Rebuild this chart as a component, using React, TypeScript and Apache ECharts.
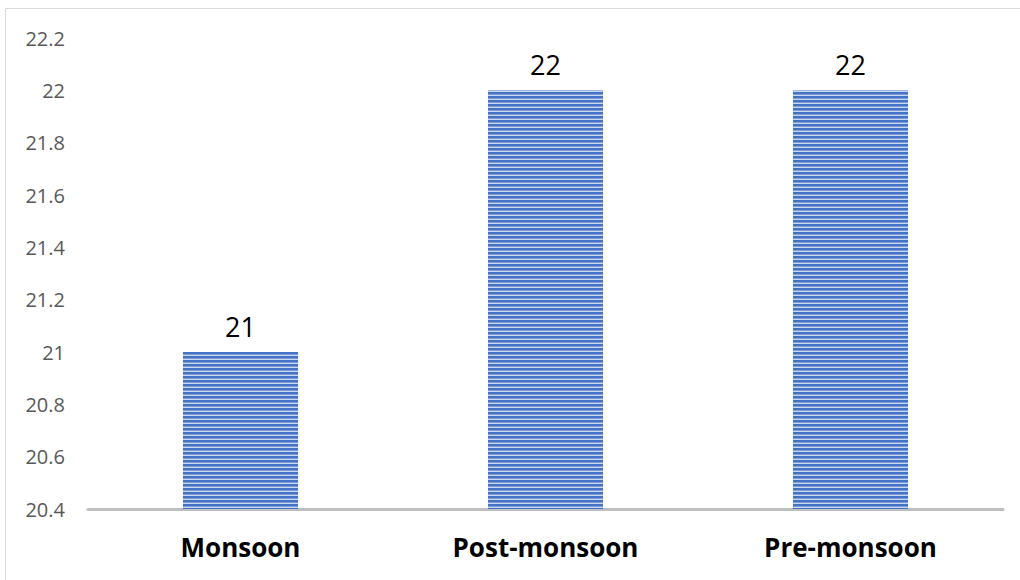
import React, { useEffect, useRef } from "react";
import * as echarts from "echarts";

const categories = ["Monsoon", "Post-monsoon", "Pre-monsoon"];
const values = [21, 22, 22];
const yMin = 20.4;
const yMax = 22.2;
const yInterval = 0.2;

const stripeSvg =
  '<svg xmlns="http://www.w3.org/2000/svg" width="4" height="4">' +
  '<rect width="4" height="4" fill="#C9D7F0"/>' +
  '<rect width="4" height="2" fill="#4472C4"/>' +
  '<rect y="2" width="4" height="1" fill="#7F9DD6"/>' +
  "</svg>";
const stripeUrl = "data:image/svg+xml;charset=utf-8," + encodeURIComponent(stripeSvg);

const FONT = "'Open Sans', Lato, sans-serif";

export default function App() {
  const ref = useRef<HTMLDivElement>(null);
  useEffect(() => {
    document.body.style.margin = "0";
    const chart = echarts.init(ref.current!, null, { renderer: "svg" });
    chart.setOption({
      animation: false,
      backgroundColor: "#ffffff",
      textStyle: { fontFamily: FONT },
      graphic: [
        {
          type: "rect",
          shape: { x: 5.5, y: 8.5, width: 1030, height: 600 },
          style: { fill: "none", stroke: "#d9d9d9", lineWidth: 1 },
          silent: true,
          z: -10,
        },
      ],
      grid: { left: 88, right: 17, top: 38, bottom: 71 },
      xAxis: {
        type: "category",
        data: categories,
        axisLine: { lineStyle: { color: "#bfbfbf", width: 3 } },
        axisTick: { show: false },
        axisLabel: {
          color: "#000000",
          fontWeight: "bold",
          fontSize: 26,
          margin: 25,
          fontFamily: FONT,
        },
      },
      yAxis: {
        type: "value",
        min: yMin,
        max: yMax,
        interval: yInterval,
        axisLine: { show: false },
        axisTick: { show: false },
        splitLine: { show: false },
        axisLabel: {
          color: "#595959",
          fontSize: 20,
          margin: 23,
          fontFamily: FONT,
          formatter: (v: number) => String(Math.round(v * 10) / 10),
        },
      },
      series: [
        {
          type: "bar",
          data: values,
          barWidth: "37.7%",
          itemStyle: {
            color: { image: stripeUrl, repeat: "repeat" } as any,
          },
          label: {
            show: true,
            position: "top",
            distance: 12,
            color: "#000000",
            fontSize: 27,
            fontFamily: FONT,
          },
        },
      ],
    });
    return () => chart.dispose();
  }, []);
  return <div ref={ref} style={{ width: 1020, height: 580 }} />;
}
